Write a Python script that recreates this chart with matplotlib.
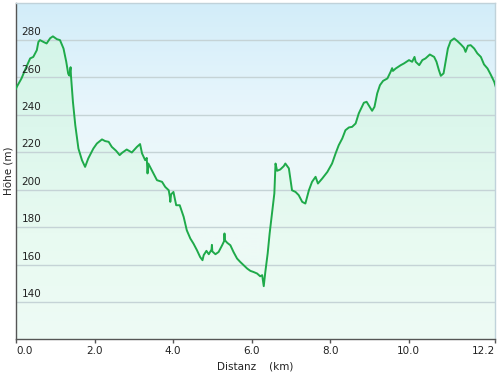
import numpy as np
import matplotlib as mpl
import matplotlib.pyplot as plt
from matplotlib.colors import LinearSegmentedColormap
from matplotlib.transforms import blended_transform_factory

mpl.use('agg')

# profile: distance (km), elevation (m)
dist = [0.00, 0.02, 0.14, 0.25, 0.36, 0.44, 0.53, 0.57, 0.61, 0.70, 0.78,
        0.87, 0.94, 1.04, 1.12, 1.21, 1.28, 1.33, 1.36, 1.39, 1.40, 1.45,
        1.51, 1.59, 1.68, 1.76, 1.84, 1.97, 2.06, 2.19, 2.27, 2.36, 2.44,
        2.55, 2.64, 2.70, 2.82, 2.95, 3.08, 3.16, 3.21, 3.29, 3.33, 3.35,
        3.37, 3.46, 3.59, 3.72, 3.80, 3.89, 3.92, 3.93, 3.95, 4.01, 4.08,
        4.17, 4.27, 4.35, 4.44, 4.52, 4.61, 4.69, 4.75, 4.78, 4.85, 4.91,
        4.98, 4.99, 5.00, 5.08, 5.16, 5.25, 5.30, 5.31, 5.32, 5.38, 5.46,
        5.54, 5.63, 5.71, 5.80, 5.89, 5.97, 6.05, 6.14, 6.22, 6.27, 6.31,
        6.35, 6.41, 6.46, 6.52, 6.58, 6.61, 6.65, 6.73, 6.82, 6.86, 6.95,
        7.03, 7.12, 7.20, 7.29, 7.37, 7.46, 7.54, 7.63, 7.69, 7.80, 7.93,
        8.05, 8.14, 8.22, 8.31, 8.39, 8.48, 8.56, 8.65, 8.73, 8.86, 8.93,
        9.01, 9.07, 9.13, 9.20, 9.27, 9.35, 9.46, 9.54, 9.58, 9.60, 9.67,
        9.80, 9.88, 10.01, 10.09, 10.15, 10.18, 10.27, 10.35, 10.43, 10.54,
        10.65, 10.71, 10.77, 10.82, 10.89, 10.94, 11.00, 11.07, 11.16,
        11.24, 11.33, 11.41, 11.45, 11.51, 11.58, 11.67, 11.75, 11.84,
        11.92, 12.01, 12.09, 12.18, 12.22]
elev = [254.0, 255.0, 259.5, 265.0, 270.2, 271.0, 274.6, 279.0, 280.0,
        279.0, 278.2, 281.0, 282.0, 280.5, 280.0, 275.5, 268.4, 262.0,
        261.0, 265.5, 261.0, 247.0, 234.5, 222.0, 215.8, 212.2, 216.7,
        222.0, 224.7, 226.9, 226.0, 225.6, 222.9, 220.8, 218.5, 219.7,
        221.5, 219.9, 222.9, 224.4, 219.4, 215.8, 217.0, 208.7, 214.0,
        210.4, 205.1, 204.2, 201.5, 199.7, 196.0, 193.5, 197.5, 198.8,
        191.7, 191.7, 185.5, 178.3, 173.9, 171.2, 167.6, 164.0, 162.3,
        165.0, 167.3, 165.5, 168.0, 170.5, 167.0, 165.5, 166.7, 170.3,
        172.5, 176.6, 173.0, 171.6, 170.3, 166.7, 163.2, 161.4, 159.6,
        157.8, 156.6, 156.0, 155.2, 153.7, 154.3, 148.4, 156.0, 165.9,
        176.6, 187.3, 198.0, 214.0, 210.1, 210.8, 212.6, 214.0, 211.4,
        199.7, 198.8, 197.1, 193.5, 192.6, 199.7, 204.2, 206.9, 203.3,
        206.0, 209.5, 214.0, 219.4, 223.8, 227.4, 231.8, 233.3, 233.6,
        235.4, 240.8, 246.5, 247.0, 244.3, 242.2, 244.3, 251.5, 255.9,
        258.2, 259.5, 263.0, 265.0, 263.5, 264.8, 266.6, 267.5, 269.3,
        268.4, 271.0, 268.4, 266.6, 269.3, 270.2, 272.3, 271.0, 268.4,
        264.0, 260.9, 262.2, 268.4, 275.5, 279.5, 280.9, 279.5, 277.7,
        275.9, 273.7, 277.0, 277.3, 275.5, 272.9, 271.0, 267.0, 264.8,
        261.6, 257.7, 255.0]

x_ticks = [0.0, 2.0, 4.0, 6.0, 8.0, 10.0, 12.2]
x_labels = ['0.0', '2.0', '4.0', '6.0', '8.0', '10.0', '12.2']
y_ticks = [140, 160, 180, 200, 220, 240, 260, 280]

XMIN, XMAX = 0.0, 12.2
YMIN, YMAX = 120, 300

################################################################################
fig = plt.figure(figsize=(5.0, 3.73), dpi=100)
ax = fig.add_axes([0.032, 0.0903, 0.958, 0.9025])
################################################################################

grad = np.linspace(0, 1, 256).reshape(-1, 1)

# sky behind the profile
sky = LinearSegmentedColormap.from_list(
    'sky', ['#d2edf9', '#e9f6fc', '#eefaf7', '#eafaf2'])
ax.imshow(grad, aspect='auto', cmap=sky, origin='upper',
          extent=[XMIN, XMAX, YMIN, YMAX], zorder=0)

# green-ish gradient under the profile
poly = ax.fill_between(dist, elev, YMIN, facecolor='none', edgecolor='none')
ground = LinearSegmentedColormap.from_list(
    'ground', ['#d3f5e8', '#dcf7ec', '#e8faf1', '#eefbf5'])
img = ax.imshow(grad, aspect='auto', cmap=ground, origin='upper',
                extent=[XMIN, XMAX, YMIN, 290], zorder=1)
img.set_clip_path(poly.get_paths()[0], transform=ax.transData)

for yv in y_ticks:
    ax.axhline(yv, color='#c5d3d6', lw=1.0, zorder=2)

ax.plot(dist, elev, color='#1faa4a', lw=1.4, zorder=3)

ax.set_xlim(XMIN, XMAX)
ax.set_ylim(YMIN, YMAX)

ax.set_xticks(x_ticks)
ax.set_xticklabels(x_labels, fontsize=7.5, color='#222222')
ax.tick_params(axis='x', direction='out', length=3, width=1,
               color='#555555', pad=2)
xl = ax.get_xticklabels()
xl[0].set_ha('left')
xl[-1].set_ha('right')
ax.set_yticks([])

trans = blended_transform_factory(ax.transAxes, ax.transData)
for yv in y_ticks:
    ax.text(0.012, yv + 1.5, str(yv), transform=trans, fontsize=7.5,
            color='#222222', ha='left', va='bottom', zorder=4)

for side in ['left', 'bottom']:
    ax.spines[side].set_color('#555555')
    ax.spines[side].set_linewidth(1.0)
for side in ['top', 'right']:
    ax.spines[side].set_color('#c0d2da')
    ax.spines[side].set_linewidth(1.0)

ax.set_xlabel('Distanz    (km)', fontsize=7.5, color='#222222', labelpad=4)
ax.set_ylabel('Höhe (m)', fontsize=7.5, color='#222222', labelpad=2)

plt.savefig('out.png', dpi=100)
